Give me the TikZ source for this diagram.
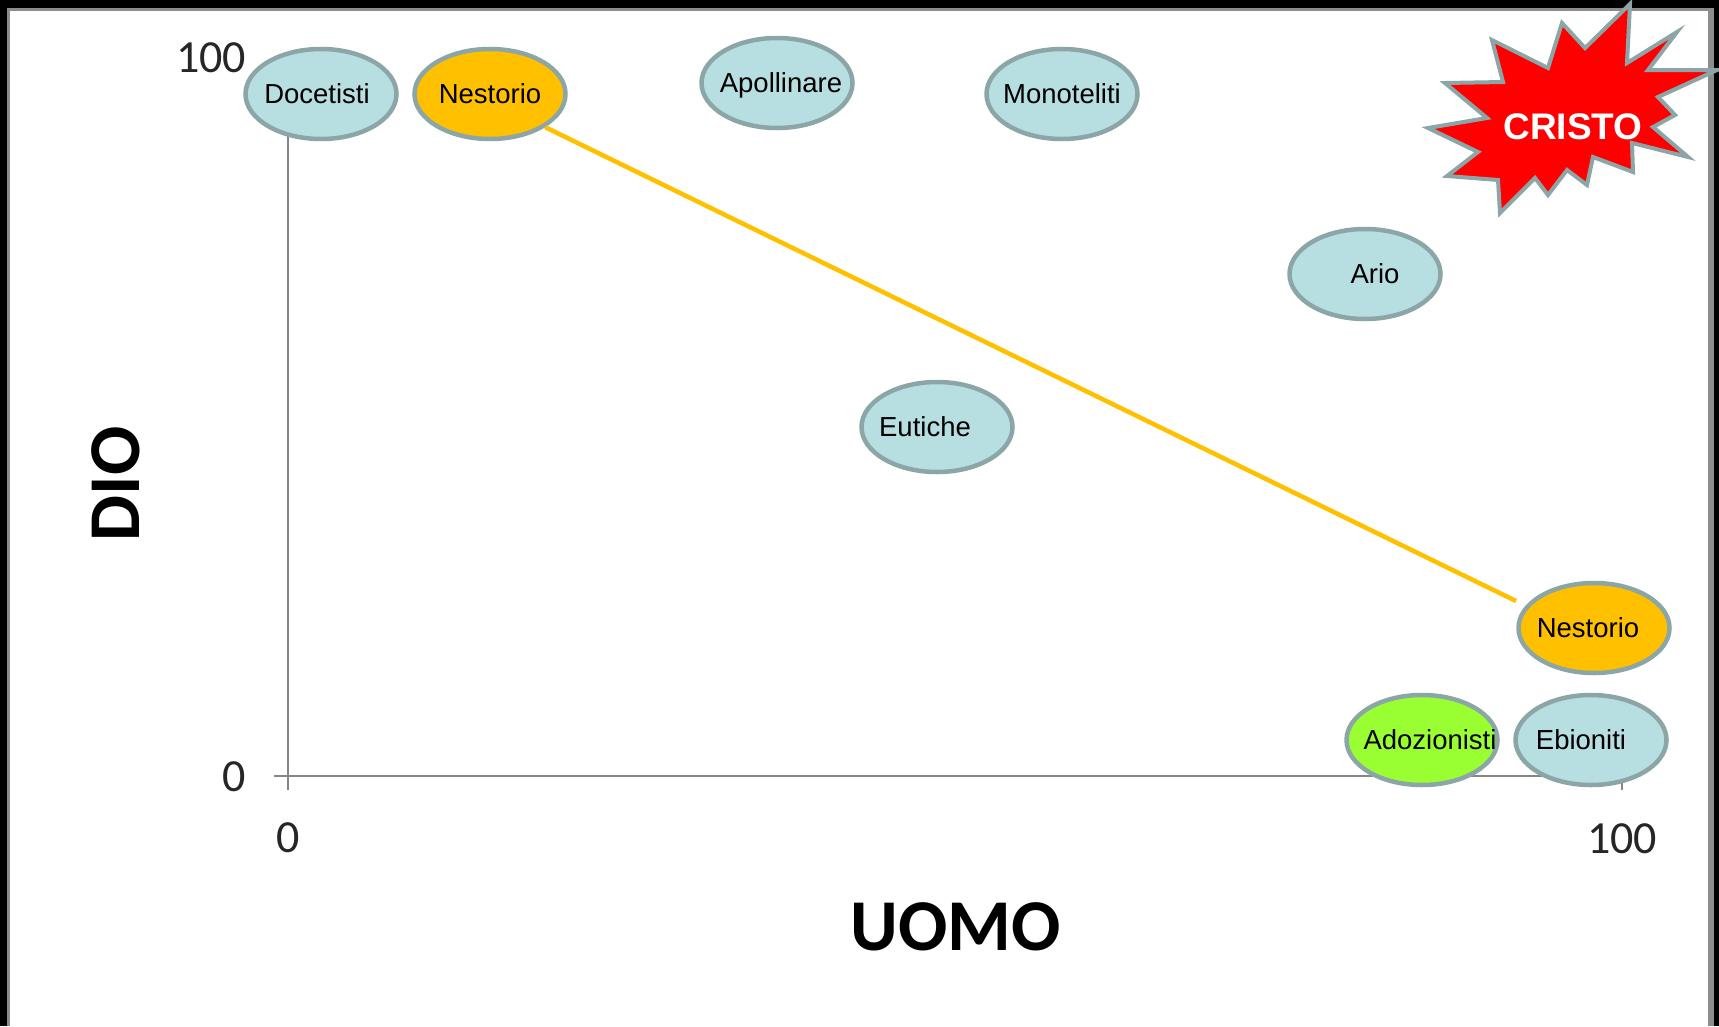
\documentclass[tikz,border=0pt]{standalone}
\usepackage{fontspec}
\setmainfont{Liberation Sans}
\newfontfamily\calfont{Carlito}
\usetikzlibrary{shapes.geometric}
\definecolor{rim}{RGB}{140,166,167}
\definecolor{sky}{RGB}{183,222,225}
\definecolor{amber}{RGB}{255,192,0}
\definecolor{lime}{RGB}{153,255,51}
\definecolor{axisgray}{RGB}{134,134,134}
\def\burst{(1630,4) -- (1627,63) -- (1677,32) -- (1648,70) -- (1717,70) -- (1658,97) -- (1675,115) -- (1653,127) -- (1688,157) -- (1632,143) -- (1633,172) -- (1593,157) -- (1587,185) -- (1567,170) -- (1548,195) -- (1535,178) -- (1500,213) -- (1498,180) -- (1447,176) -- (1478,152) -- (1428,128) -- (1487,118) -- (1445,83) -- (1503,82) -- (1492,40) -- (1548,68) -- (1562,23) -- (1585,48) -- cycle}
\tikzset{
  sect/.style={ellipse, draw=rim, line width=4.5pt, fill=sky, minimum width=151pt, minimum height=90pt, inner sep=0pt},
  every label/.style={font=\fontsize{27.5pt}{30pt}\selectfont, text=black},
  tick/.style={font=\calfont\fontsize{46pt}{50pt}\selectfont, text=black!85, inner sep=0pt},
  title/.style={font=\calfont\bfseries\fontsize{73pt}{76pt}\selectfont, inner sep=0pt}
}

\begin{document}
\begin{tikzpicture}[x=1pt, y=-1pt]
  \useasboundingbox (0,0) rectangle (1719,1026);

  % Frame
  \fill[black] (0,0) rectangle (1719,1026);
  \fill[black!45] (7,8) rectangle (1714,1026);
  \fill[white] (10,11) rectangle (1708,1026);

  % Axes
  \begin{scope}[draw=axisgray, line width=2pt]
    \coordinate (O) at (288,776);
    \coordinate (top) at (288,60);
    \coordinate (right) at (1622,776);
    \draw (top) -- ([yshift=-14pt]O);
    \draw ([xshift=-14pt]O) -- (right) -- ([yshift=-14pt]right);
  \end{scope}

  % Tick labels
  \node[tick] (y0) at (234,777) {0};
  \node[tick] (y100) at (211,58) {100};
  \node[tick] (x0) at (288,838) {0};
  \node[tick] (x100) at (1622,839) {100};

  % Titles
  \node[title] (uomo) at (956,927) {UOMO};
  \node[title, rotate=90] (dio) at (116,484) {DIO};

  % Heresies
  \node[sect, label={[xshift=-4pt]center:Docetisti}] (doc) at (321,94) {};
  \node[sect, fill=amber, label={center:Nestorio}] (nestTop) at (490,94) {};
  \node[sect, label={[xshift=4pt, yshift=-2pt]center:Apollinare}] (apo) at (777,83) {};
  \node[sect, label={center:Monoteliti}] (mono) at (1062,94) {};
  \node[sect, label={[xshift=10pt]center:Ario}] (ario) at (1365,274) {};
  \node[sect, label={[xshift=-12pt]center:Eutiche}] (eut) at (937,427) {};
  \node[sect, fill=amber, label={[xshift=-6pt]center:Nestorio}] (nestBot) at (1594,628) {};
  \node[sect, fill=lime, label={[xshift=8pt]center:Adozionisti}] (adoz) at (1422,740) {};
  \node[sect, label={[xshift=-10pt]center:Ebioniti}] (ebio) at (1591,740) {};

  % Nestorio
  \coordinate (nestEnd) at ([xshift=-78pt, yshift=27pt]nestBot);
  \draw[amber, line width=4.5pt] (nestTop.-31) -- (nestEnd);

  % Cristo
  \filldraw[fill=red, draw=rim, line width=4pt, line join=miter] \burst;
  \node[text=white, font=\bfseries\fontsize{37pt}{40pt}\selectfont, inner sep=0pt] (cristo) at (1573,127) {CRISTO};

\end{tikzpicture}
\end{document}
